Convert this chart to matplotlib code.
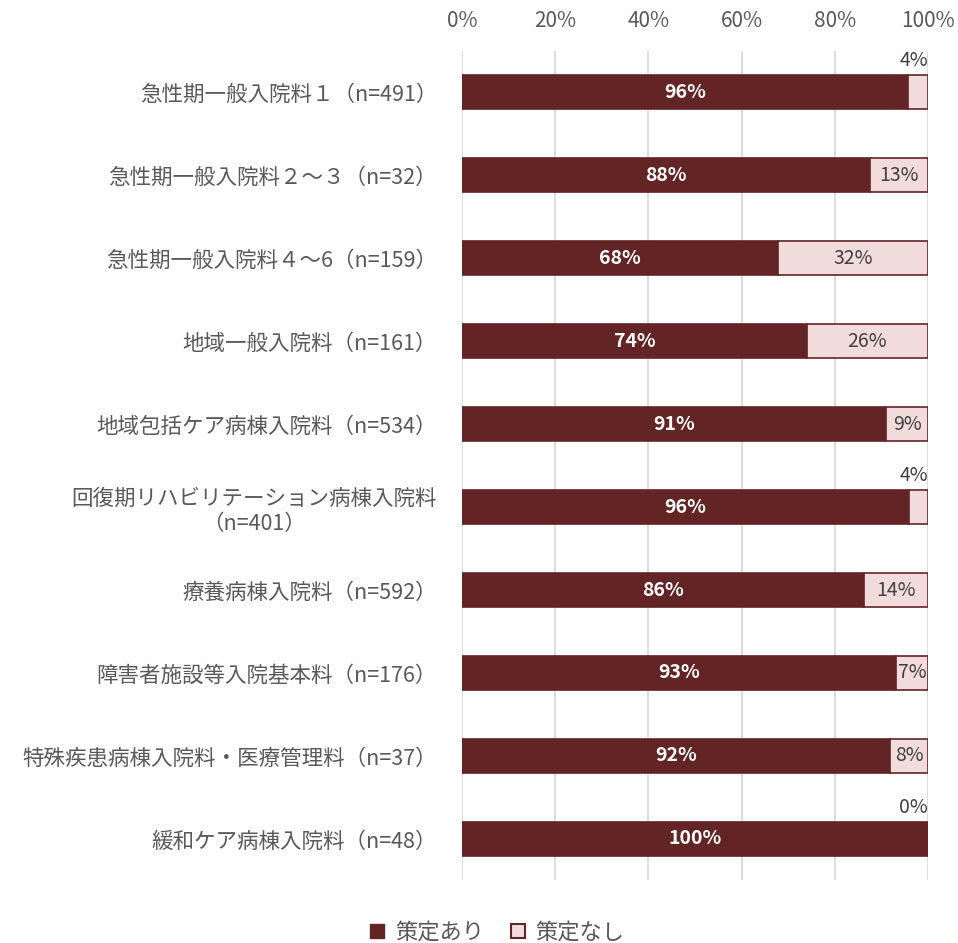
import matplotlib.pyplot as plt
from matplotlib.lines import Line2D

plt.rcParams['font.family'] = ['Noto Sans CJK JP', 'DejaVu Sans']

categories = [
    '急性期一般入院料１（n=491）',
    '急性期一般入院料２～３（n=32）',
    '急性期一般入院料４～6（n=159）',
    '地域一般入院料（n=161）',
    '地域包括ケア病棟入院料（n=534）',
    '回復期リハビリテーション病棟入院料\n（n=401）',
    '療養病棟入院料（n=592）',
    '障害者施設等入院基本料（n=176）',
    '特殊疾患病棟入院料・医療管理料（n=37）',
    '緩和ケア病棟入院料（n=48）',
]
ari = [95.7, 87.5, 67.9, 74.0, 91.0, 95.9, 86.3, 93.1, 91.9, 100.0]
nashi = [4.3, 12.5, 32.1, 26.0, 9.0, 4.1, 13.7, 6.9, 8.1, 0.0]
ari_lbl = ['96%', '88%', '68%', '74%', '91%', '96%', '86%', '93%', '92%', '100%']
nashi_lbl = ['4%', '13%', '32%', '26%', '9%', '4%', '14%', '7%', '8%', '0%']

dark = '#632426'
light = '#F2DCDB'
gray = '#595959'

fig = plt.figure(figsize=(9.58, 9.43), dpi=100)
ax = fig.add_axes([0.4823, 0.0663, 0.4864, 0.8801])

y = list(range(len(categories)))
h = 0.41
ax.barh(y, ari, height=h, color=dark, edgecolor=dark, linewidth=1.2, zorder=3)
ax.barh(y, nashi, left=ari, height=h, color=light, edgecolor=dark, linewidth=1.2, zorder=3)

for i in y:
    ax.text(ari[i] / 2, i, ari_lbl[i], ha='center', va='center', color='white',
            fontsize=14, fontweight='bold', zorder=4)
    if nashi[i] < 5:
        ax.text(100, i - h / 2 - 0.05, nashi_lbl[i], ha='right', va='bottom',
                color='#404040', fontsize=14, zorder=4)
    else:
        ax.text(ari[i] + nashi[i] / 2, i, nashi_lbl[i], ha='center', va='center',
                color='#404040', fontsize=14, zorder=4)

ax.set_xlim(0, 100)
ax.set_ylim(len(categories) - 0.5, -0.5)
ax.set_xticks(range(0, 101, 20))
ax.set_xticklabels([f'{v}%' for v in range(0, 101, 20)])
ax.xaxis.tick_top()
ax.tick_params(axis='x', length=0, pad=13, labelsize=15, labelcolor=gray)
ax.set_yticks(y)
ax.set_yticklabels(categories)
ax.tick_params(axis='y', length=0, pad=18, labelsize=15.5, labelcolor=gray)
for lab in ax.get_yticklabels():
    lab.set_multialignment('center')
ax.grid(axis='x', color='#D9D9D9', linewidth=1.3, zorder=0)
for s in ax.spines.values():
    s.set_visible(False)

handles = [
    Line2D([], [], marker='s', linestyle='none', markersize=10, markerfacecolor=dark,
           markeredgecolor=dark, label='策定あり'),
    Line2D([], [], marker='s', linestyle='none', markersize=10, markerfacecolor=light,
           markeredgecolor=dark, markeredgewidth=1.5, label='策定なし'),
]
fig.legend(handles=handles, loc='lower center', bbox_to_anchor=(0.517, -0.016), ncol=2,
           frameon=False, fontsize=16, labelcolor=gray, handletextpad=0.3,
           columnspacing=1.0, handlelength=1.0, borderpad=0.15)

fig.savefig('out.png', dpi=100)
